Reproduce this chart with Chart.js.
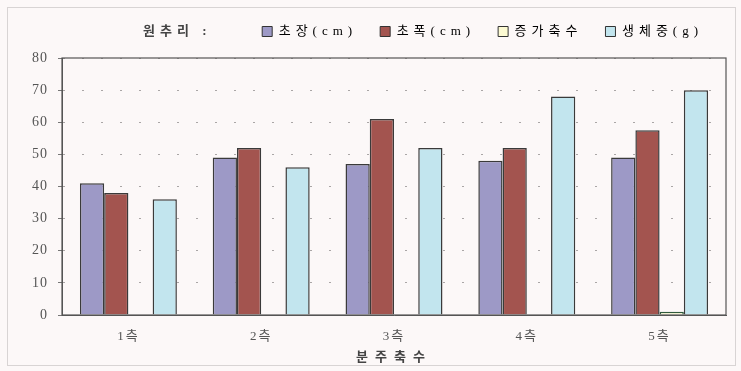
<!DOCTYPE html>
<html>
<head>
<meta charset="utf-8">
<script src="https://cdn.jsdelivr.net/npm/chart.js@4/dist/chart.umd.min.js"></script>
<style>
  html, body { margin: 0; padding: 0; background: #fcf8f8; }
  #wrap { width: 741px; height: 371px; }
</style>
</head>
<body>
<div id="wrap"><canvas id="c" width="741" height="371"></canvas></div>
<script>
const categories = ['1측', '2측', '3측', '4측', '5측'];
const seriesNames = ['초장(cm)', '초폭(cm)', '증가축수', '생체중(g)'];
const plantHeight = [41, 49, 47, 48, 49];
const plantWidth = [38, 52, 61, 52, 57.5];
const addedTillers = [0, 0, 0, 0, 1];
const freshWeight = [36, 46, 52, 68, 70];
const yTicks = [0, 10, 20, 30, 40, 50, 60, 70, 80];
const legendTitle = '원추리 :';
const xTitle = '분주축수';

const FONT = '"Liberation Serif", "Noto Sans CJK KR", serif';
const fills = ['#9d99c6', '#a3544f', '#fcfad2', '#c2e5ee'];
const borders = ['#3a3a3a', '#3a3a3a', '#2f5a3c', '#3a3a3a'];
const values = [plantHeight, plantWidth, addedTillers, freshWeight];

function spaced(obj, method, px, dx) {
  const orig = obj[method];
  obj[method] = function (...a) {
    const ctx = this.ctx;
    ctx.save();
    ctx.letterSpacing = px + 'px';
    if (dx) ctx.translate(dx, 0);
    const r = orig.apply(this, a);
    ctx.restore();
    return r;
  };
}

const decor = {
  id: 'decor',
  beforeLayout(chart) {
    if (chart.legend && !chart.legend._sp) {
      const L = chart.legend;
      L._sp = true;
      spaced(L, 'fit', 5);
      spaced(L, 'draw', 5, 0);
      const ou = L.update;
      L.update = function (...a) { const r = ou.apply(this, a); this.height += 10; return r; };
    }
    const xs = chart.scales.x;
    if (xs && !xs._sp) {
      xs._sp = true;
      spaced(xs, 'drawTitle', 7);
      spaced(xs, 'drawLabels', 2);
    }
    const ys = chart.scales.y;
    if (ys && !ys._sp) {
      ys._sp = true;
      spaced(ys, 'drawLabels', 1);
    }
  },
  beforeDraw(chart) {
    const ctx = chart.ctx;
    ctx.save();
    ctx.fillStyle = '#fcf8f8';
    ctx.fillRect(0, 0, chart.width, chart.height);
    ctx.strokeStyle = '#d8d4d4';
    ctx.lineWidth = 1;
    ctx.strokeRect(7.5, 7.5, chart.width - 13, chart.height - 13);
    ctx.restore();
  },
  afterDatasetsDraw(chart) {
    const ctx = chart.ctx;
    const a = chart.chartArea;
    ctx.save();
    ctx.strokeStyle = '#555';
    ctx.lineWidth = 1.2;
    ctx.strokeRect(a.left, a.top, a.right - a.left, a.bottom - a.top);
    ctx.restore();
  },
  afterDraw(chart) {
    const ctx = chart.ctx;
    const lg = chart.legend;
    ctx.save();
    ctx.fillStyle = '#444';
    ctx.font = 'bold 13px ' + FONT;
    ctx.letterSpacing = '5px';
    ctx.textBaseline = 'middle';
    ctx.textAlign = 'left';
    const hb = lg.legendHitBoxes;
    const y = hb.length ? hb[0].top + hb[0].height / 2 : 30;
    ctx.fillText(legendTitle, 143, y);
    ctx.restore();
  }
};

new Chart(document.getElementById('c'), {
  type: 'bar',
  data: {
    labels: categories,
    datasets: seriesNames.map((n, i) => ({
      label: n,
      data: values[i],
      backgroundColor: fills[i],
      borderColor: borders[i],
      borderWidth: 1.5,
      borderSkipped: 'bottom',
      barPercentage: 1.0,
      categoryPercentage: 0.73
    }))
  },
  options: {
    responsive: false,
    animation: false,
    layout: { padding: { left: 8, right: 15, top: 2, bottom: 0 } },
    plugins: {
      tooltip: { enabled: false },
      legend: {
        position: 'top',
        align: 'end',
        labels: {
          font: { family: FONT, size: 13 },
          color: '#444',
          boxWidth: 10,
          boxHeight: 10,
          padding: 23,
          generateLabels(chart) {
            return chart.data.datasets.map((d, i) => ({
              text: d.label,
              fillStyle: d.backgroundColor,
              strokeStyle: '#333',
              lineWidth: 1,
              datasetIndex: i,
              hidden: false
            }));
          }
        }
      }
    },
    scales: {
      x: {
        afterFit(axis) { axis.height = 56; },
        grid: { display: false, drawTicks: false },
        border: { display: true, color: '#555' },
        ticks: { font: { family: FONT, size: 13 }, color: '#555', padding: 14 },
        title: { display: true, text: xTitle, font: { family: FONT, size: 13, weight: 'bold' }, color: '#444', padding: { top: 3, bottom: 6 } }
      },
      y: {
        min: 0,
        max: 80,
        afterBuildTicks(axis) { axis.ticks = yTicks.map(v => ({ value: v })); },
        afterFit(axis) { axis.width = 54; },
        grid: {
          color: '#aaa6a6',
          tickColor: '#777',
          tickLength: 4,
          lineWidth: 1,
          drawOnChartArea: true
        },
        border: { display: true, color: '#555', dash: [2, 17] },
        ticks: { font: { family: FONT, size: 14 }, color: '#555', padding: 10 }
      }
    }
  },
  plugins: [decor]
});
</script>
</body>
</html>
